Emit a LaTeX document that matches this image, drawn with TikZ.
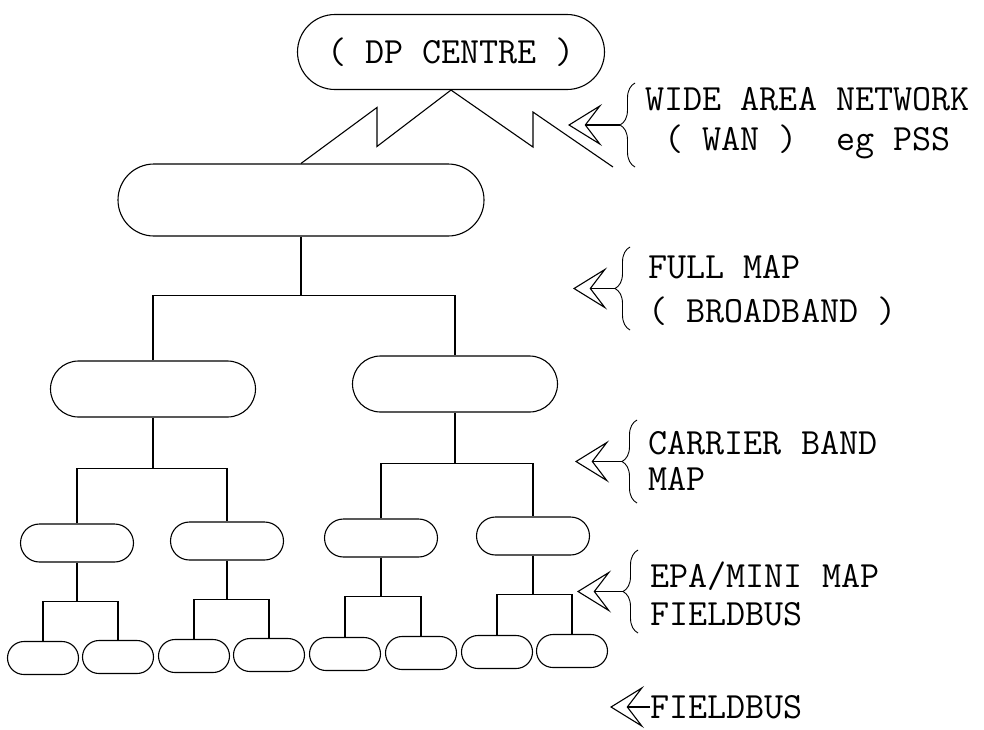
\documentclass[tikz,border=0pt]{standalone}
\usepackage{tikz}
\usetikzlibrary{positioning, arrows.meta, decorations.pathreplacing, shapes.misc, calc}

\begin{document}
\begin{tikzpicture}[x=1pt, y=-1pt, line width=1.1pt,
    capsule/.style={draw, rounded rectangle, inner sep=0pt},
    txt/.style={font=\ttfamily\fontsize{37}{40}\selectfont, inner sep=0pt},
    side/.style={txt, align=left, anchor=west},
    curly/.style={decorate, decoration={brace, amplitude=15pt, aspect=0.5}},
    pointer/.style={-{Stealth[open, length=34pt, width=42pt, inset=16pt]}}]

    \useasboundingbox (0,0) rectangle (984,729);

    % top of the tree
    \node[capsule, txt, minimum width=307pt, minimum height=75pt] (dp) at (451,52) {( DP CENTRE )};
    \node[capsule, minimum width=366pt, minimum height=72pt] (hub) at (301,200) {};

    % second and third level
    \foreach \name/\x/\y in {l2a/153/389, l2b/455/384}
    {
        \node[capsule, minimum width=205pt, minimum height=56pt] (\name) at (\x,\y) {};
    }
    \foreach \name/\x/\y in {l3a/77/543, l3b/227/541, l3c/381/538, l3d/533/536}
    {
        \node[capsule, minimum width=113pt, minimum height=38pt] (\name) at (\x,\y) {};
    }

    % field devices
    \foreach \name/\x/\y in {l4a/43/658, l4b/118/657, l4c/194/656, l4d/269/655,
                             l4e/345/654, l4f/421/653, l4g/497/652, l4h/572/651}
    {
        \node[capsule, minimum width=71pt, minimum height=33pt] (\name) at (\x,\y) {};
    }

    % wan link
    \coordinate (wanend) at (613,167);
    \draw (hub.north) -- ++(76,-56) -- ++(0,39) -- (dp.south)
        -- ++(82,57) -- ++(0,-35) -- (wanend);

    % broadband bus
    \draw (hub.south) -- ++(0,59) coordinate (j1);
    \draw (l2a.north) |- (j1) -| (l2b.north);

    % carrier band
    \draw (l2a.south) -- ++(0,51) coordinate (j2a);
    \draw (l3a.north) |- (j2a) -| (l3b.north);
    \draw (l2b.south) -- ++(0,51) coordinate (j2b);
    \draw (l3c.north) |- (j2b) -| (l3d.north);

    % fieldbus
    \foreach \up/\left/\right in {l3a/l4a/l4b, l3b/l4c/l4d, l3c/l4e/l4f, l3d/l4g/l4h}
    {
        \draw (\up.south) -- ++(0,39) coordinate (j3\up);
        \draw (\left.north) |- (j3\up) -| (\right.north);
    }

    % labels on the right
    \node[side] (wan) at (645,123) {WIDE AREA NETWORK\\\ ( WAN )\ \ eg PSS};
    \node[side] (full) at (648,290) {FULL MAP\\[4pt]( BROADBAND )};
    \node[side] (carr) at (648,461) {CARRIER BAND\\[-4pt]MAP};
    \node[side] (epa) at (650,594) {EPA/MINI MAP\\[-2pt]FIELDBUS};
    \node[side] (fb) at (650,707) {FIELDBUS};

    % braces and arrows
    \foreach \lbl/\bx/\top/\bot/\tip in {wan/635/83/167/568, full/630/247/330/573,
                                         carr/637/420/503/575, epa/638/550/633/577}
    {
        \draw[curly, line width=0.9pt] (\bx,\bot) -- (\bx,\top);
        \coordinate (b\lbl) at ($(\bx,\bot)!0.5!(\bx,\top) + (-15,0)$);
        \coordinate (t\lbl) at (\tip,0 |- b\lbl);
        \draw[pointer] (b\lbl) -- (t\lbl);
    }
    \coordinate (tfb) at (610,707);
    \draw[pointer] (fb.west) -- (tfb);
\end{tikzpicture}
\end{document}
